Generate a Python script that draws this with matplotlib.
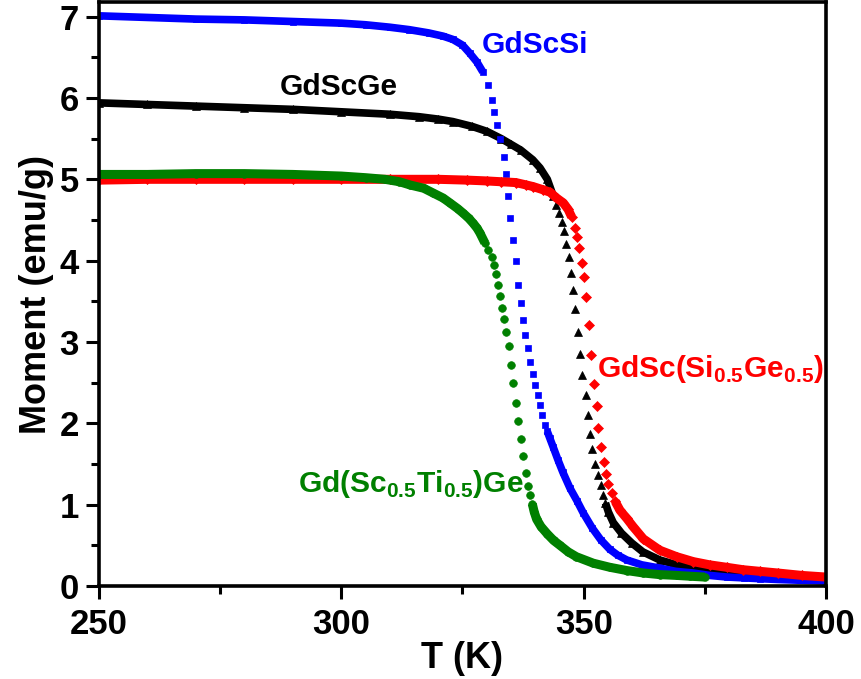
import numpy as np
import matplotlib.pyplot as plt
from matplotlib.ticker import MultipleLocator

plt.rcParams['font.family'] = ['Liberation Sans', 'DejaVu Sans']
plt.rcParams['font.weight'] = 'bold'
plt.rcParams['mathtext.fontset'] = 'custom'
plt.rcParams['mathtext.rm'] = 'Liberation Sans:bold'
plt.rcParams['mathtext.bf'] = 'Liberation Sans:bold'

# Magnetisation vs temperature.
# GdScSi
t_si = [250, 260, 270, 280, 290, 300, 305, 310, 314, 318, 321, 323, 325, 326.5, 328,
        329.2, 330.2, 331.0, 331.5, 332.2, 332.8, 333.6, 333.9, 334.4, 334.9, 335.4,
        336.0, 336.4, 337.0, 337.5, 337.9, 338.5, 339.0, 339.5, 340.0, 340.5, 341.0,
        341.5, 342.0, 342.5, 343.0, 343.7, 344.7, 345.7, 347.2, 348.6, 349.9, 351.8,
        353.5, 355.4, 357.0, 358.9, 362.0, 365.7, 369.0, 372.5, 376.0, 379.6, 383.0,
        386.4, 390, 395, 400]
m_si = [7.01, 6.99, 6.97, 6.96, 6.94, 6.92, 6.90, 6.87, 6.84, 6.80, 6.76, 6.72, 6.65, 6.55, 6.44,
        6.32, 6.16, 5.98, 5.83, 5.67, 5.49, 5.28, 5.06, 4.80, 4.53, 4.26,
        4.00, 3.70, 3.48, 3.27, 3.09, 2.92, 2.75, 2.61, 2.47, 2.35, 2.23,
        2.10, 1.98, 1.90, 1.82, 1.71, 1.55, 1.40, 1.20, 1.05, 0.90, 0.71,
        0.57, 0.45, 0.38, 0.32, 0.26, 0.22, 0.18, 0.16, 0.13, 0.11, 0.10,
        0.09, 0.08, 0.07, 0.06]

# GdScGe
t_ge = [250, 260, 270, 280, 290, 300, 310, 316, 320, 323, 327, 330, 333, 335, 337,
        339.5, 341, 342.5, 343.7, 344.3, 344.9, 345.5, 345.9, 346.4, 346.9, 347.4,
        347.9, 348.3, 348.9, 349.2, 349.7, 350.4, 350.8, 351.3, 351.8, 352.4, 352.9,
        353.5, 354.0, 354.5, 355.1, 356.1, 357.8, 359.9, 362.2, 365.7, 369.2, 372.5,
        376, 380, 385, 390, 395, 400]
m_ge = [5.94, 5.92, 5.90, 5.88, 5.86, 5.83, 5.80, 5.77, 5.74, 5.71, 5.65, 5.59, 5.50, 5.43, 5.36,
        5.24, 5.14, 5.00, 4.80, 4.69, 4.59, 4.48, 4.36, 4.20, 4.04, 3.85,
        3.64, 3.40, 3.12, 2.85, 2.60, 2.35, 2.10, 1.87, 1.69, 1.50, 1.36,
        1.24, 1.12, 1.02, 0.91, 0.78, 0.65, 0.53, 0.42, 0.32, 0.26, 0.22,
        0.18, 0.15, 0.13, 0.11, 0.10, 0.09]

# GdSc(Si0.5Ge0.5)
t_sige = [250, 260, 270, 280, 290, 300, 310, 320, 326, 330, 333, 336, 338.2, 339.6, 341.7,
          343.1, 344.4, 345.8, 346.8, 347.5, 348.2, 348.6, 349.0, 349.6, 350.1, 350.5,
          351.0, 351.6, 352.2, 352.7, 353.0, 353.6, 354.1, 354.6, 355.1, 355.8, 356.5,
          357.5, 358.9, 360.2, 362.3, 365.7, 369.2, 372.6, 376.0, 379.5, 382.9, 386.4,
          390, 395, 400]
m_sige = [4.99, 5.00, 5.00, 5.00, 5.00, 5.00, 5.00, 5.00, 4.99, 4.98, 4.97, 4.96, 4.93, 4.91, 4.87,
          4.84, 4.77, 4.71, 4.63, 4.54, 4.40, 4.29, 4.15, 3.97, 3.80, 3.55,
          3.21, 2.84, 2.48, 2.21, 1.94, 1.71, 1.52, 1.38, 1.25, 1.14, 1.04,
          0.93, 0.83, 0.73, 0.58, 0.44, 0.36, 0.30, 0.26, 0.23, 0.20, 0.18,
          0.16, 0.13, 0.11]

# Gd(Sc0.5Ti0.5)Ge
t_scti = [250, 260, 270, 280, 290, 300, 305, 309, 312, 314.2, 317, 319, 321, 322.4, 324,
          325.2, 326.3, 327.2, 328.0, 328.6, 329.6, 330.3, 331.0, 331.4, 331.9, 332.3,
          332.7, 333.1, 333.6, 334.0, 334.5, 335.0, 335.5, 336.0, 336.5, 337.0, 337.5,
          338.0, 338.5, 339.0, 339.4, 339.8, 340.3, 341.2, 342.5, 343.8, 345.1, 346.8,
          348.5, 352.0, 355.4, 358.9, 362.3, 365.7, 369.2, 372, 375]
m_scti = [5.06, 5.06, 5.07, 5.07, 5.06, 5.04, 5.02, 5.00, 4.97, 4.93, 4.89, 4.83, 4.77, 4.71, 4.64,
          4.58, 4.52, 4.46, 4.40, 4.34, 4.22, 4.13, 4.05, 3.95, 3.83, 3.70,
          3.56, 3.42, 3.28, 3.12, 2.95, 2.72, 2.49, 2.25, 2.03, 1.81, 1.60,
          1.39, 1.23, 1.12, 1.01, 0.91, 0.82, 0.73, 0.64, 0.56, 0.50, 0.42,
          0.36, 0.28, 0.23, 0.19, 0.16, 0.14, 0.13, 0.12, 0.11]

# (T, M, color, marker, markersize, band width, steep T-range where markers stand apart)
series = [
    (t_ge, m_ge, 'black', '^', 6, 5.5, (343.9, 354.3)),
    (t_si, m_si, 'blue', 's', 5, 5.5, (329.8, 342.3)),
    (t_sige, m_sige, 'red', 'D', 5, 6.5, (347.9, 355.9)),
    (t_scti, m_scti, 'green', 'o', 5.5, 6.5, (330.0, 339.2)),
]

fig = plt.figure(figsize=(8.61, 6.79), dpi=100)
ax = fig.add_axes([99 / 861, 93 / 679, 727 / 861, 584 / 679])

for t, m, c, mk, ms, lw, steep in series:
    t = np.array(t)
    m = np.array(m, dtype=float)
    band = np.where((t > steep[0]) & (t < steep[1]), np.nan, m)
    ax.plot(t, band, '-', color=c, lw=lw, solid_capstyle='butt')
    ax.plot(t, m, linestyle='none', marker=mk, color=c, ms=ms, mec=c, mew=0.5)

ax.set_xlim(250, 400)
ax.set_ylim(0, 7.18)
ax.xaxis.set_major_locator(MultipleLocator(50))
ax.xaxis.set_minor_locator(MultipleLocator(25))
ax.yaxis.set_major_locator(MultipleLocator(1))
ax.yaxis.set_minor_locator(MultipleLocator(0.5))
ax.tick_params(which='major', direction='out', length=9.5, width=2.2, labelsize=25, pad=5)
ax.tick_params(which='minor', direction='out', length=5.5, width=2.2)
ax.tick_params(axis='x', which='major', pad=6)
for s in ax.spines.values():
    s.set_linewidth(2.6)

ax.set_xlabel('T (K)', fontsize=26, fontweight='bold', labelpad=0)
ax.set_ylabel('Moment (emu/g)', fontsize=26, fontweight='bold', labelpad=4)

ax.text(329.0, 6.65, 'GdScSi', color='blue', fontsize=21.5, fontweight='bold', va='center')
ax.text(287.3, 6.14, 'GdScGe', color='black', fontsize=21.5, fontweight='bold', va='center')
ax.text(352.8, 2.67, r'GdSc(Si$_{0.5}$Ge$_{0.5}$)', color='red', fontsize=21.5,
        fontweight='bold', va='center')
ax.text(291.0, 1.25, r'Gd(Sc$_{0.5}$Ti$_{0.5}$)Ge', color='green', fontsize=21.5,
        fontweight='bold', va='center')

plt.savefig('out.png', dpi=100)
